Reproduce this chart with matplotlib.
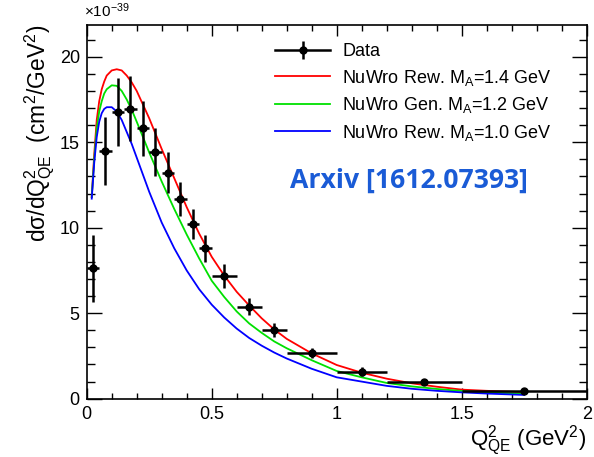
import matplotlib
matplotlib.use("Agg")
import matplotlib.pyplot as plt
from matplotlib.ticker import MultipleLocator
from matplotlib.lines import Line2D

plt.rcParams['font.family'] = ['Liberation Sans', 'DejaVu Sans']
plt.rcParams['mathtext.fontset'] = 'custom'
plt.rcParams['mathtext.rm'] = 'Liberation Sans'
plt.rcParams['mathtext.it'] = 'Liberation Sans'

# ---- data (x 1e-39 cm^2/GeV^2) ----
data_x = [0.025, 0.075, 0.125, 0.175, 0.225, 0.275, 0.325, 0.375, 0.425, 0.475,
          0.55, 0.65, 0.75, 0.9, 1.1, 1.35, 1.75]
data_xerr = [0.025, 0.025, 0.025, 0.025, 0.025, 0.025, 0.025, 0.025, 0.025, 0.025,
             0.05, 0.05, 0.05, 0.1, 0.1, 0.15, 0.25]
data_y = [7.63, 14.5, 16.77, 16.96, 15.81, 14.42, 13.22, 11.67, 10.22, 8.8,
          7.15, 5.38, 4.02, 2.67, 1.58, 0.96, 0.47]
data_yerr = [1.95, 2.0, 2.0, 1.9, 1.6, 1.4, 1.2, 1.0, 0.9, 0.78,
             0.7, 0.5, 0.4, 0.3, 0.27, 0.15, 0.15]

curve_x = [0.02, 0.03, 0.04, 0.05, 0.06, 0.07, 0.08, 0.10, 0.12, 0.14, 0.16, 0.18,
           0.20, 0.25, 0.30, 0.35, 0.40, 0.45, 0.50, 0.55, 0.60, 0.65, 0.70, 0.75,
           0.80, 0.90, 1.00, 1.10, 1.20, 1.30, 1.40, 1.50, 1.60, 1.75]
red_y = [11.8, 14.3, 16.3, 17.4, 18.1, 18.55, 18.9, 19.2, 19.27, 19.2, 18.9, 18.5,
         18.0, 16.4, 14.6, 12.9, 11.2, 9.65, 8.3, 7.2, 6.25, 5.45, 4.7, 4.05,
         3.5, 2.65, 1.97, 1.52, 1.17, 0.9, 0.7, 0.53, 0.46, 0.38]
green_y = [11.8, 14.0, 15.8, 16.8, 17.4, 17.85, 18.1, 18.33, 18.3, 18.0, 17.5, 16.9,
           16.2, 14.4, 12.7, 11.1, 9.6, 8.2, 6.9, 5.95, 5.1, 4.4, 3.85, 3.35,
           2.95, 2.25, 1.62, 1.25, 0.92, 0.72, 0.57, 0.45, 0.37, 0.28]
blue_y = [11.7, 13.8, 15.3, 16.2, 16.7, 16.95, 17.05, 17.05, 16.8, 16.3, 15.6, 14.9,
          14.1, 12.1, 10.3, 8.8, 7.5, 6.4, 5.5, 4.75, 4.1, 3.55, 3.1, 2.7,
          2.35, 1.75, 1.25, 1.0, 0.75, 0.58, 0.46, 0.37, 0.3, 0.22]

labels = ["Data",
          r"NuWro Rew. M$_\mathregular{A}$=1.4 GeV",
          r"NuWro Gen. M$_\mathregular{A}$=1.2 GeV",
          r"NuWro Rew. M$_\mathregular{A}$=1.0 GeV"]

fig = plt.figure(figsize=(5.94, 4.57), dpi=100)
ax = fig.add_axes([0.146, 0.1276, 0.8417, 0.8174])

l1, = ax.plot(curve_x, red_y, color='#ff0000', lw=1.3)
l2, = ax.plot(curve_x, green_y, color='#00e000', lw=1.3)
l3, = ax.plot(curve_x, blue_y, color='#0000ff', lw=1.3)
eb = ax.errorbar(data_x, data_y, xerr=data_xerr, yerr=data_yerr, fmt='o',
                 color='black', ms=5, elinewidth=1.8, capsize=0, zorder=5)

ax.set_xlim(0, 2)
ax.set_ylim(0, 21.85)
ax.xaxis.set_major_locator(MultipleLocator(0.5))
ax.xaxis.set_minor_locator(MultipleLocator(0.1))
ax.yaxis.set_major_locator(MultipleLocator(5))
ax.yaxis.set_minor_locator(MultipleLocator(1))
ax.tick_params(which='both', direction='in', top=True, right=True,
               labelsize=13, width=1)
ax.tick_params(axis='x', which='major', length=8, pad=5)
ax.tick_params(axis='x', which='minor', length=4.5)
ax.tick_params(axis='y', which='major', length=11, pad=5)
ax.tick_params(axis='y', which='minor', length=5.5)
ax.set_xticks([0, 0.5, 1, 1.5, 2])
ax.set_xticklabels(['0', '0.5', '1', '1.5', '2'])
for s in ax.spines.values():
    s.set_linewidth(1.2)

ax.set_ylabel(r"d$\sigma$/dQ$^\mathregular{2}_\mathregular{QE}$  (cm$^\mathregular{2}$/GeV$^\mathregular{2}$)",
              fontsize=16.4, labelpad=2, loc='top')
ax.set_xlabel(r"Q$^\mathregular{2}_\mathregular{QE}$ (GeV$^\mathregular{2}$)", fontsize=16,
              loc='right', labelpad=1)
fig.text(0.141, 0.962, r"$\times$10$^{\mathregular{-39}}$", fontsize=11, ha='left', va='baseline')

data_handle = (Line2D([], [], color='black', lw=1.8, marker='o', ms=5),
               Line2D([], [], color='black', lw=0, marker='|', ms=13, mew=1.8))
leg = fig.legend([data_handle, l1, l2, l3], labels, loc='upper left',
                 bbox_to_anchor=(0.463, 0.906), frameon=False, fontsize=13,
                 handlelength=3.05, handletextpad=0.67, labelspacing=0.42,
                 borderpad=0, borderaxespad=0)

fig.text(0.689, 0.605, "Arxiv [1612.07393]", fontsize=19.2, fontweight='bold',
         family=['Open Sans', 'DejaVu Sans'], color='#1a5bd6', ha='center', va='center')

fig.savefig("out.png", dpi=100)
